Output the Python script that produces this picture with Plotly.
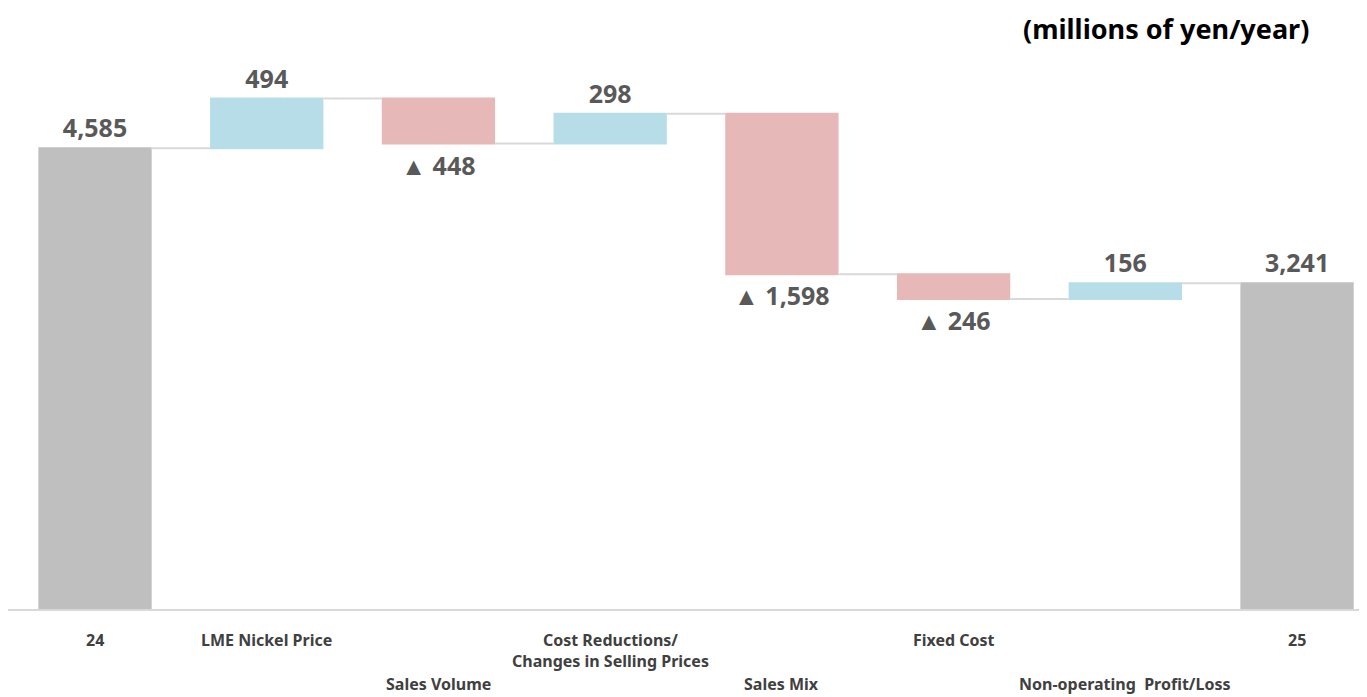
import plotly.graph_objects as go

categories = ["24", "LME Nickel Price", "Sales Volume",
              "Cost Reductions/<br>Changes in Selling Prices", "Sales Mix",
              "Fixed Cost", "Non-operating  Profit/Loss", "25"]
label_rows = [0, 0, 2, 0, 2, 0, 2, 0]
values = [4585, 494, -448, 298, -1598, -246, 156, 3241]
measures = ["absolute", "relative", "relative", "relative", "relative", "relative", "relative", "total"]

def fmt(v):
    return f"{v:,}" if v >= 0 else f"▲ {abs(v):,}"

texts = [fmt(v) for v in values]
xpos = list(range(len(categories)))

FONT = "Noto Sans"
fig = go.Figure(go.Waterfall(
    x=xpos, y=values, measure=measures,
    text=texts, textposition="outside",
    textfont=dict(family=FONT, size=25, color="#595959", weight="bold"),
    increasing=dict(marker=dict(color="#b7dde8")),
    decreasing=dict(marker=dict(color="#e6b8b7")),
    totals=dict(marker=dict(color="#bfbfbf")),
    connector=dict(line=dict(color="#d9d9d9", width=2)),
    width=0.66,
    cliponaxis=False,
))

annotations = []
for x, c, r in zip(xpos, categories, label_rows):
    annotations.append(dict(
        x=x, y=0, xref="x", yref="y", text=c, showarrow=False,
        xanchor="center", yanchor="top", yshift=-19 - r * 22, borderpad=0,
        font=dict(family=FONT, size=16, color="#404040", weight="bold")))

annotations.append(dict(text="(millions of yen/year)", xref="paper", yref="paper",
                        x=1302 / 1367, y=1.0, yshift=51, xanchor="right", yanchor="top",
                        showarrow=False, borderpad=0,
                        font=dict(family=FONT, size=27, color="#000000", weight="bold")))

fig.update_layout(
    width=1367, height=697,
    margin=dict(l=0, r=0, t=52, b=96),
    plot_bgcolor="white", paper_bgcolor="white",
    showlegend=False,
    xaxis=dict(range=[-0.5067, 7.454], showgrid=False, zeroline=False,
               showline=True, linecolor="#d9d9d9", linewidth=2,
               showticklabels=False, ticks=""),
    yaxis=dict(range=[0, 5463], visible=False),
    annotations=annotations,
)

fig.write_html("out.html")
